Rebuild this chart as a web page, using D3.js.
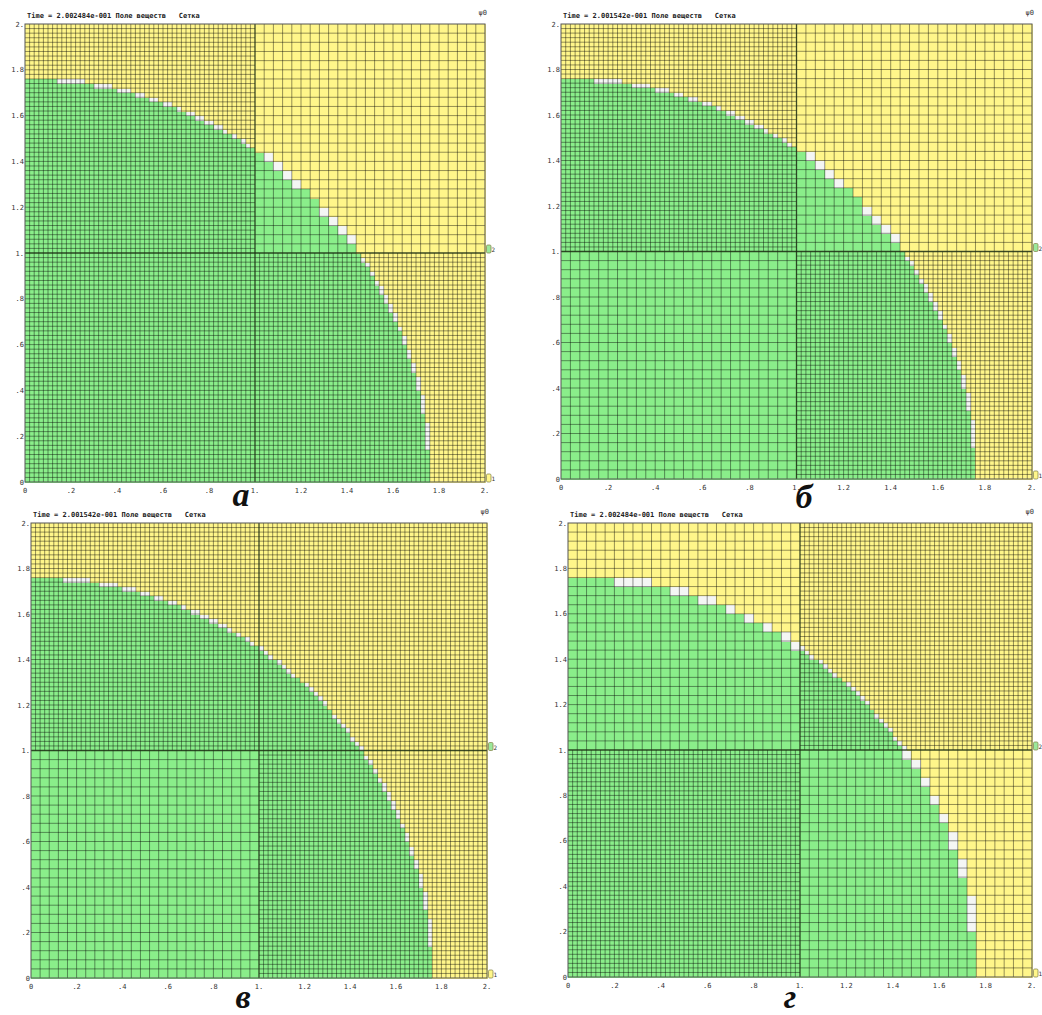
<!DOCTYPE html>
<html>
<head>
<meta charset="utf-8">
<script src="https://cdn.jsdelivr.net/npm/d3@7/dist/d3.min.js"></script>
<style>
  body { margin: 0; background: #fff; }
  svg { display: block; }
  .tick-label { font-family: "DejaVu Sans Mono", monospace; font-size: 7px; fill: #333; }
  .marker-label { font-family: "DejaVu Sans Mono", monospace; font-size: 6px; fill: #333; }
  .title { font-family: "DejaVu Sans Mono", monospace; font-size: 7px; fill: #222; font-weight: bold; }
  .panel-name { font-family: "Liberation Serif", serif; font-style: italic; font-weight: bold; font-size: 34px; fill: #111; }
</style>
</head>
<body>
<svg id="chart" width="1042" height="1015"></svg>
<script>
// panel captions and header times
var panelNames = ["а", "б", "в", "г"];
var panelTimes = ["2.002484e-001", "2.001542e-001", "2.001542e-001", "2.002484e-001"];
// interface radius (green region) per panel
var panelRadius = [1.76, 1.76, 1.76, 1.76];
// cells per unit length in each quadrant: [bottom-left, bottom-right, top-left, top-right]
var quadrantRes = [
    [50, 50, 50, 25],
    [25, 50, 50, 25],
    [25, 50, 50, 50],
    [50, 25, 25, 50]
];
var tickValues = [0, 0.2, 0.4, 0.6, 0.8, 1, 1.2, 1.4, 1.6, 1.8, 2];
var tickLabels = ["0", ".2", ".4", ".6", ".8", "1.", "1.2", "1.4", "1.6", "1.8", "2."];

// pixel boxes of the four panels (left, top, width, height)
var boxes = [
    {left: 25, top: 24, w: 460, h: 458, capX: 241, capY: 506},
    {left: 561, top: 24, w: 471, h: 455, capX: 804, capY: 508},
    {left: 31, top: 523, w: 456, h: 455, capX: 243, capY: 1008},
    {left: 568, top: 523, w: 464, h: 454, capX: 790, capY: 1008}
];

var GREEN = "#8aee8a", YELLOW = "#fff68a", WHITE = "#f4f6f4";

var svg = d3.select("#chart");

// fraction of a cell lying inside the circle (sampled)
function insideFraction(x0, y0, s, r) {
    var n = 6, c = 0;
    for (var a = 0; a < n; a++) {
        for (var b = 0; b < n; b++) {
            var px = x0 + (a + 0.5) * s / n, py = y0 + (b + 0.5) * s / n;
            if (px * px + py * py <= r * r) c++;
        }
    }
    return c / (n * n);
}

panelNames.forEach(function (name, p) {
    var box = boxes[p];
    var x = d3.scaleLinear().domain([0, 2]).range([0, box.w]);
    var y = d3.scaleLinear().domain([0, 2]).range([box.h, 0]);
    var g = svg.append("g").attr("transform", "translate(" + box.left + "," + box.top + ")");

    var quads = [
        {qx: 0, qy: 0}, {qx: 1, qy: 0}, {qx: 0, qy: 1}, {qx: 1, qy: 1}
    ];
    var cells = [];
    quads.forEach(function (q, k) {
        var n = quadrantRes[p][k], s = 1 / n;
        q.n = n;
        for (var i = 0; i < n; i++) {
            for (var j = 0; j < n; j++) {
                var x0 = q.qx + i * s, y0 = q.qy + j * s;
                var f = insideFraction(x0, y0, s, panelRadius[p]);
                cells.push({x0: x0, y0: y0, s: s,
                    color: f >= 0.7 ? GREEN : (f <= 0.04 ? YELLOW : WHITE)});
            }
        }
    });

    g.append("g").selectAll("rect")
        .data(cells)
        .enter().append("rect")
        .attr("x", function (d) { return x(d.x0); })
        .attr("y", function (d) { return y(d.y0 + d.s); })
        .attr("width", function (d) { return x(d.x0 + d.s) - x(d.x0) + 0.5; })
        .attr("height", function (d) { return y(d.y0) - y(d.y0 + d.s) + 0.5; })
        .attr("fill", function (d) { return d.color; })
        .attr("shape-rendering", "crispEdges");

    // grid lines of each quadrant
    var lines = [];
    quads.forEach(function (q) {
        for (var i = 1; i < q.n; i++) {
            var v = i / q.n;
            lines.push({x1: q.qx + v, y1: q.qy, x2: q.qx + v, y2: q.qy + 1});
            lines.push({x1: q.qx, y1: q.qy + v, x2: q.qx + 1, y2: q.qy + v});
        }
    });
    g.append("g").selectAll("line")
        .data(lines)
        .enter().append("line")
        .attr("x1", function (d) { return x(d.x1); })
        .attr("y1", function (d) { return y(d.y1); })
        .attr("x2", function (d) { return x(d.x2); })
        .attr("y2", function (d) { return y(d.y2); })
        .attr("stroke", "#000")
        .attr("stroke-opacity", 0.42)
        .attr("stroke-width", 1);

    // block boundaries
    g.append("line")
        .attr("x1", x(1)).attr("x2", x(1)).attr("y1", y(0)).attr("y2", y(2))
        .attr("stroke", "#1a2a10").attr("stroke-width", 1.3).attr("stroke-opacity", 0.85);
    g.append("line")
        .attr("x1", x(0)).attr("x2", x(2)).attr("y1", y(1)).attr("y2", y(1))
        .attr("stroke", "#1a2a10").attr("stroke-width", 1.3).attr("stroke-opacity", 0.85);
    g.append("rect")
        .attr("x", x(0)).attr("y", y(2))
        .attr("width", x(2) - x(0)).attr("height", y(0) - y(2))
        .attr("fill", "none").attr("stroke", "#555").attr("stroke-width", 1);

    // tick labels
    g.selectAll(".xt")
        .data(tickValues)
        .enter().append("text")
        .attr("class", "tick-label")
        .attr("x", function (d) { return x(d); })
        .attr("y", box.h + 11)
        .attr("text-anchor", "middle")
        .text(function (d, i) { return tickLabels[i]; });
    g.selectAll(".yt")
        .data(tickValues)
        .enter().append("text")
        .attr("class", "tick-label")
        .attr("x", -1)
        .attr("y", function (d) { return y(d) + 2.5; })
        .attr("text-anchor", "end")
        .text(function (d, i) { return tickLabels[i]; });

    // header
    g.append("text")
        .attr("class", "title")
        .attr("x", 2).attr("y", -6)
        .attr("xml:space", "preserve")
        .text("Time = " + panelTimes[p] + " Поле веществ   Сетка");
    g.append("text")
        .attr("class", "tick-label")
        .attr("x", box.w + 2).attr("y", -9)
        .attr("text-anchor", "end")
        .text("ψ0");

    // block markers on the right edge
    var markers = [{v: 1, c: "#9be89b", label: "2"}, {v: 0, c: "#fff68a", label: "1"}];
    markers.forEach(function (m) {
        g.append("rect")
            .attr("x", box.w + 1.5).attr("y", y(m.v) - 8)
            .attr("width", 4.5).attr("height", 8).attr("rx", 1.2)
            .attr("fill", m.c).attr("stroke", "#8a8a50").attr("stroke-width", 0.8);
        g.append("text")
            .attr("class", "marker-label")
            .attr("x", box.w + 6.5).attr("y", y(m.v) - 1)
            .text(m.label);
    });

    svg.append("text")
        .attr("class", "panel-name")
        .attr("x", box.capX).attr("y", box.capY)
        .attr("text-anchor", "middle")
        .text(name);
});
</script>
</body>
</html>
